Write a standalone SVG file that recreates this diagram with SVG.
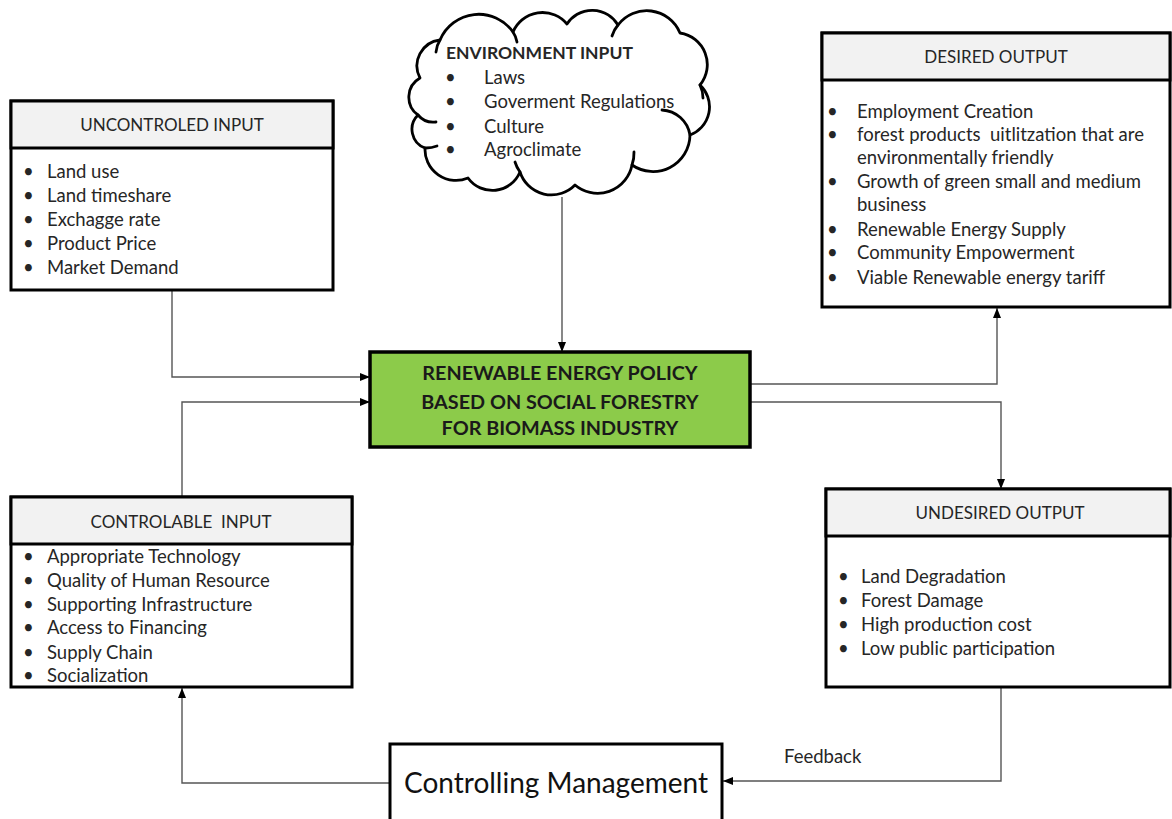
<svg xmlns="http://www.w3.org/2000/svg" width="1172" height="819" viewBox="0 0 1172 819">
  <style>
    .box { fill: #ffffff; stroke: #000000; stroke-width: 3; }
    .head { fill: #f2f2f2; stroke: #000000; stroke-width: 3; }
    .core { fill: #8ccb4a; stroke: #000000; stroke-width: 3.5; }
    .cloud { fill: #ffffff; stroke: #000000; stroke-width: 2.8; stroke-linejoin: round; }
    .inner { fill: none; stroke: #000000; stroke-width: 2.8; stroke-linecap: round; }
    .wire { fill: none; stroke: #555555; stroke-width: 1.4; }
    text { font-family: Lato, "Open Sans", "Liberation Sans", sans-serif; fill: #262626; white-space: pre; }
    .ttl { font-size: 17px; text-anchor: middle; }
    .itm { font-size: 18.5px; }
    .bold { font-weight: bold; }
    .core-t { font-size: 19.8px; font-weight: bold; text-anchor: middle; fill: #1a1a1a; }
    .big { font-size: 28px; text-anchor: middle; fill: #111111; }
  </style>
  <defs>
    <marker id="arrow" markerUnits="userSpaceOnUse" markerWidth="10" markerHeight="10" viewBox="0 0 10 10" refX="10" refY="5" orient="auto">
      <path d="M0,1 L10,5 L0,9 Z" fill="#000000"/>
    </marker>
  </defs>
  <rect width="1172" height="819" fill="#ffffff"/>

  <!-- connectors -->
  <g id="connectors">
    <polyline class="wire" points="172,290 172,377 370,377" marker-end="url(#arrow)"/>
    <polyline class="wire" points="182,497 182,402 370,402" marker-end="url(#arrow)"/>
    <polyline class="wire" points="562,197 562,352" marker-end="url(#arrow)"/>
    <polyline class="wire" points="750,384 997,384 997,308" marker-end="url(#arrow)"/>
    <polyline class="wire" points="750,402 1001,402 1001,489" marker-end="url(#arrow)"/>
    <polyline class="wire" points="1001,687 1001,781 723,781" marker-end="url(#arrow)"/>
    <polyline class="wire" points="390,783 182,783 182,688" marker-end="url(#arrow)"/>
    <text x="784" y="763" class="itm">Feedback</text>
  </g>

  <!-- uncontrolled input -->
  <g id="uncontrolled-input">
    <rect class="box" x="11" y="101" width="322" height="189"/>
    <rect class="head" x="11" y="101" width="322" height="47"/>
    <text x="172" y="131" class="ttl">UNCONTROLED INPUT</text>
    <g class="itm">
      <text x="23" y="178">•</text><text x="47" y="178">Land use</text>
      <text x="23" y="202">•</text><text x="47" y="202">Land timeshare</text>
      <text x="23" y="226">•</text><text x="47" y="226">Exchagge rate</text>
      <text x="23" y="250">•</text><text x="47" y="250">Product Price</text>
      <text x="23" y="274">•</text><text x="47" y="274">Market Demand</text>
    </g>
  </g>

  <!-- environment input cloud -->
  <g id="environment-input">
    <path class="cloud" d="M420,78 A26,26 0 0 1 440,40 A42,42 0 0 1 513,32 A32,32 0 0 1 567,24 A30,30 0 0 1 618,25 A36,36 0 0 1 680,33 A32,32 0 0 1 700,85 A30,30 0 0 1 690,135 A37,37 0 0 1 632,165 A35,35 0 0 1 575,185 A33,33 0 0 1 520,172 A30,30 0 0 1 468,178 A31,31 0 0 1 425,148 A20,20 0 0 1 418,115 A22,22 0 0 1 420,78 Z"/>
    <path class="inner" d="M440,40 A26,26 0 0 0 436,52"/>
    <path class="inner" d="M513,32 A26,26 0 0 1 517,42"/>
    <path class="inner" d="M618,25 A30,30 0 0 0 612,36"/>
    <path class="inner" d="M700,85 A30,30 0 0 1 703,98"/>
    <path class="inner" d="M662,110 A30,30 0 0 1 690,135"/>
    <path class="inner" d="M632,165 A35,35 0 0 0 634,152"/>
    <path class="inner" d="M520,172 A33,33 0 0 1 515,162"/>
    <path class="inner" d="M418,115 A20,20 0 0 0 436,122"/>
    <path class="inner" d="M425,148 A31,31 0 0 0 437,146"/>
    <text x="446" y="59" class="bold" font-size="17.5">ENVIRONMENT INPUT</text>
    <g class="itm">
      <text x="445" y="84">•</text><text x="484" y="84">Laws</text>
      <text x="445" y="108">•</text><text x="484" y="108">Goverment Regulations</text>
      <text x="445" y="133">•</text><text x="484" y="133">Culture</text>
      <text x="445" y="156">•</text><text x="484" y="156">Agroclimate</text>
    </g>
  </g>

  <!-- desired output -->
  <g id="desired-output">
    <rect class="box" x="822" y="33" width="348" height="274"/>
    <rect class="head" x="822" y="33" width="348" height="47"/>
    <text x="996" y="63" class="ttl">DESIRED OUTPUT</text>
    <g class="itm">
      <text x="827" y="118">•</text><text x="857" y="118">Employment Creation</text>
      <text x="827" y="141">•</text><text x="857" y="141">forest products  uitlitzation that are</text>
      <text x="857" y="164">environmentally friendly</text>
      <text x="827" y="188">•</text><text x="857" y="188">Growth of green small and medium</text>
      <text x="857" y="211">business</text>
      <text x="827" y="236">•</text><text x="857" y="236">Renewable Energy Supply</text>
      <text x="827" y="259">•</text><text x="857" y="259">Community Empowerment</text>
      <text x="827" y="284">•</text><text x="857" y="284">Viable Renewable energy tariff</text>
    </g>
  </g>

  <!-- central policy node -->
  <g id="policy">
    <rect class="core" x="370" y="352" width="380" height="95"/>
    <text x="560" y="380" class="core-t">RENEWABLE ENERGY POLICY</text>
    <text x="560" y="409" class="core-t">BASED ON SOCIAL FORESTRY</text>
    <text x="560" y="435" class="core-t">FOR BIOMASS INDUSTRY</text>
  </g>

  <!-- controllable input -->
  <g id="controllable-input">
    <rect class="box" x="11" y="497" width="341" height="190"/>
    <rect class="head" x="11" y="497" width="341" height="47"/>
    <text x="181" y="528" class="ttl">CONTROLABLE  INPUT</text>
    <g class="itm">
      <text x="23" y="563">•</text><text x="47" y="563">Appropriate Technology</text>
      <text x="23" y="587">•</text><text x="47" y="587">Quality of Human Resource</text>
      <text x="23" y="611">•</text><text x="47" y="611">Supporting Infrastructure</text>
      <text x="23" y="634">•</text><text x="47" y="634">Access to Financing</text>
      <text x="23" y="659">•</text><text x="47" y="659">Supply Chain</text>
      <text x="23" y="682">•</text><text x="47" y="682">Socialization</text>
    </g>
  </g>

  <!-- undesired output -->
  <g id="undesired-output">
    <rect class="box" x="826" y="489" width="344" height="198"/>
    <rect class="head" x="826" y="489" width="344" height="47"/>
    <text x="1000" y="519" class="ttl">UNDESIRED OUTPUT</text>
    <g class="itm">
      <text x="838" y="583">•</text><text x="861" y="583">Land Degradation</text>
      <text x="838" y="607">•</text><text x="861" y="607">Forest Damage</text>
      <text x="838" y="631">•</text><text x="861" y="631">High production cost</text>
      <text x="838" y="655">•</text><text x="861" y="655">Low public participation</text>
    </g>
  </g>

  <!-- controlling management -->
  <g id="controlling-management">
    <rect class="box" x="390" y="744" width="332" height="90"/>
    <text x="556" y="793" class="big">Controlling Management</text>
  </g>
</svg>
